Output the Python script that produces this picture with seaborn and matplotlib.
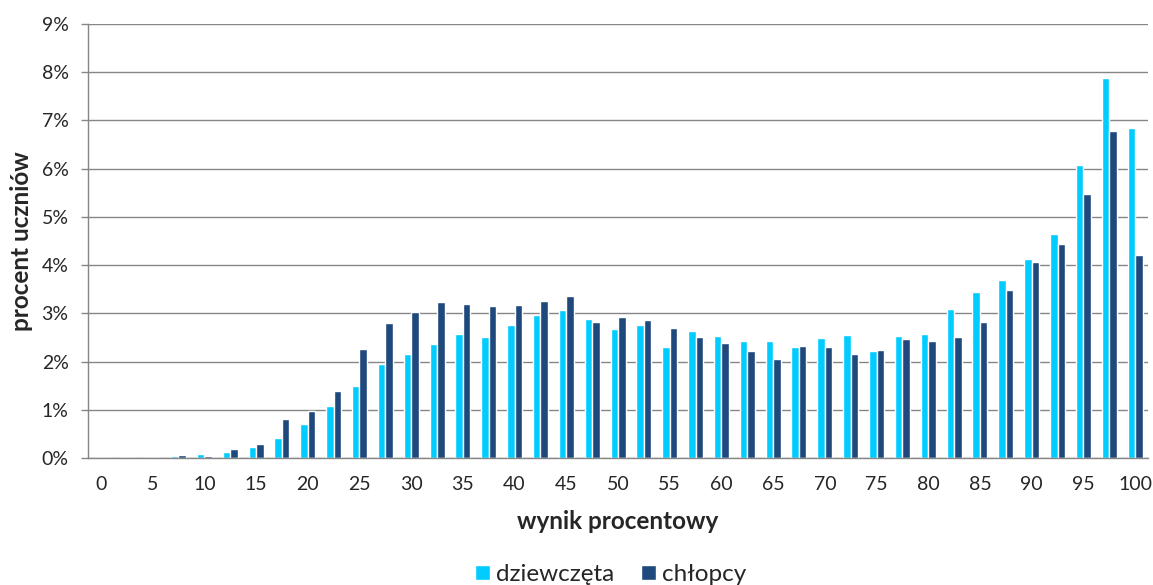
import numpy as np
import pandas as pd
import seaborn as sns
from matplotlib import pyplot as plt
from matplotlib.patches import Patch

# score categories (every 2.5 percentage points)
scores = ["0", "2.5", "5", "7.5", "10", "12.5", "15", "17.5", "20", "22.5",
          "25", "27.5", "30", "32.5", "35", "37.5", "40", "42.5", "45", "47.5",
          "50", "52.5", "55", "57.5", "60", "62.5", "65", "67.5", "70", "72.5",
          "75", "77.5", "80", "82.5", "85", "87.5", "90", "92.5", "95", "97.5",
          "100"]

# percent of students
girls = [0.0, 0.0, 0.0, 0.035, 0.09, 0.12, 0.23, 0.42, 0.70, 1.08,
         1.50, 1.96, 2.16, 2.37, 2.57, 2.50, 2.75, 2.97, 3.08, 2.88,
         2.68, 2.75, 2.30, 2.63, 2.53, 2.42, 2.42, 2.30, 2.49, 2.55,
         2.22, 2.54, 2.57, 3.09, 3.45, 3.69, 4.12, 4.64, 6.08, 7.88,
         6.84]
boys = [0.0, 0.0, 0.0, 0.055, 0.05, 0.19, 0.30, 0.81, 0.98, 1.39,
        2.26, 2.79, 3.03, 3.24, 3.20, 3.16, 3.18, 3.26, 3.37, 2.83,
        2.92, 2.86, 2.70, 2.52, 2.39, 2.23, 2.06, 2.32, 2.31, 2.16,
        2.24, 2.47, 2.43, 2.51, 2.83, 3.49, 4.07, 4.44, 5.48, 6.79,
        4.22]

series_names = ["dziewczęta", "chłopcy"]
colors = ["#00CCFF", "#1F497D"]

df = pd.DataFrame({
    "wynik": scores * 2,
    "procent": girls + boys,
    "płeć": [series_names[0]] * len(scores) + [series_names[1]] * len(scores),
})

sns.set_style("white")
plt.rcParams['font.family'] = ['Lato', 'DejaVu Sans']

fig = plt.figure(figsize=(11.53, 5.85), dpi=100)
ax = fig.add_axes([0.0763, 0.217, 0.9194, 0.742])

sns.barplot(data=df, x="wynik", y="procent", hue="płeć", order=scores,
            hue_order=series_names, palette=colors, width=0.58,
            saturation=1, ax=ax, legend=False)

ax.set_ylim(0, 9)
ax.set_xlim(-0.5, len(scores) - 0.5)
ax.set_yticks(range(0, 10))
ax.set_yticklabels([f"{i}%" for i in range(0, 10)])
ax.set_xticks(range(0, len(scores), 2))
ax.set_xticklabels(scores[::2])

# horizontal gridlines only, gray like the axis
ax.grid(axis="y", color="#868686", linewidth=1.0)
ax.set_axisbelow(True)
for s in ["top", "right"]:
    ax.spines[s].set_visible(False)
for s in ["left", "bottom"]:
    ax.spines[s].set_color("#868686")
    ax.spines[s].set_linewidth(1.0)

ax.tick_params(axis="y", length=5, color="#868686", width=1.0, pad=9,
               labelsize=14, left=True)
ax.tick_params(axis="x", length=0, pad=13, labelsize=14)

ax.set_xlabel("wynik procentowy", fontsize=17.5, weight="bold", labelpad=12)
ax.set_ylabel("procent uczniów", fontsize=17.5, weight="bold", labelpad=6)

handles = [Patch(facecolor=c, label=n) for c, n in zip(colors, series_names)]
ax.legend(handles=handles, loc="center", bbox_to_anchor=(0.493, -0.268),
          ncol=2, frameon=False, fontsize=17.5, handlelength=0.6,
          handleheight=0.6, handletextpad=0.25, columnspacing=1.1)

plt.savefig("out.png", dpi=100)
